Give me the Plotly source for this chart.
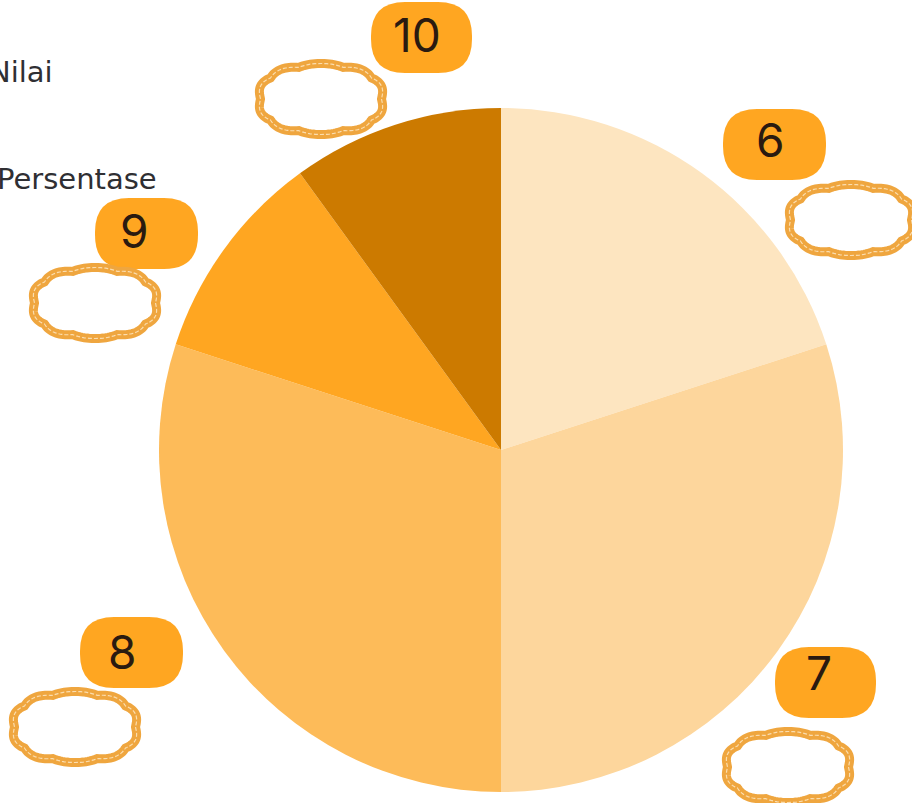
import math
import plotly.graph_objects as go

W, H = 912, 803
grades = ["6", "7", "8", "9", "10"]
percent = [20, 30, 30, 10, 10]
colors = ["#FDE5C0", "#FDD69C", "#FDBB59", "#FFA621", "#CC7A00"]

badge_boxes = {"10": (371, 2, 472, 73), "6": (723, 109, 826, 180), "9": (95, 198, 198, 269),
               "8": (80, 617, 183, 688), "7": (775, 647, 876, 718)}
label_centres = {"10": (417, 35), "6": (770, 140), "9": (134, 231), "8": (122, 652), "7": (819, 673)}
cloud_centres = {"10": (321, 99), "6": (851, 220), "9": (95, 303), "8": (75, 727), "7": (788, 767)}
CLOUD_W, CLOUD_H = 121, 66

def px(x): return x / W
def py(y): return 1 - y / H

def rounded(x0, y0, x1, y1, r):
    pts = [f"M {px(x0+r)} {py(y0)}", f"L {px(x1-r)} {py(y0)}",
           f"Q {px(x1)} {py(y0)} {px(x1)} {py(y0+r)}", f"L {px(x1)} {py(y1-r)}",
           f"Q {px(x1)} {py(y1)} {px(x1-r)} {py(y1)}", f"L {px(x0+r)} {py(y1)}",
           f"Q {px(x0)} {py(y1)} {px(x0)} {py(y1-r)}", f"L {px(x0)} {py(y0+r)}",
           f"Q {px(x0)} {py(y0)} {px(x0+r)} {py(y0)}", "Z"]
    return " ".join(pts)

def cloud(cx, cy, w, h, lobes=10, n=200):
    parts = []
    for i in range(n):
        t = 2 * math.pi * i / n
        bump = abs(math.sin(lobes * t / 2))
        c, s = math.cos(t), math.sin(t)
        ex = abs(c) ** 0.85 * (1 if c >= 0 else -1)
        ey = abs(s) ** 0.85 * (1 if s >= 0 else -1)
        x = cx + (w / 2 + 2.5 * bump) * ex
        y = cy + (h / 2 + 2.5 * bump) * ey
        parts.append(("M" if i == 0 else "L") + f" {px(x)} {py(y)}")
    return " ".join(parts) + " Z"

fig = go.Figure(go.Pie(
    labels=grades, values=percent, sort=False, direction="clockwise", rotation=0,
    marker=dict(colors=colors, line=dict(width=0)), textinfo="none", hoverinfo="label+percent",
    domain=dict(x=[px(159), px(843)], y=[py(792), py(108)]),
))

shapes, annotations = [], []
for g in grades:
    x0, y0, x1, y1 = badge_boxes[g]
    shapes.append(dict(type="path", xref="paper", yref="paper", path=rounded(x0, y0, x1, y1, 34),
                       fillcolor="#FFA621", line=dict(width=0), layer="above"))
    lx, ly = label_centres[g]
    annotations.append(dict(x=px(lx), y=py(ly), xref="paper", yref="paper",
                            text=g, showarrow=False, xanchor="center", yanchor="middle",
                            font=dict(family="Inter, Lato, sans-serif", size=46, color="#2A1A10")))
    cx, cy = cloud_centres[g]
    path = cloud(cx, cy, CLOUD_W, CLOUD_H)
    shapes.append(dict(type="path", xref="paper", yref="paper", path=path, fillcolor="#FFFFFF",
                       line=dict(color="#EFA63F", width=9), layer="above"))
    shapes.append(dict(type="path", xref="paper", yref="paper", path=path, fillcolor="rgba(0,0,0,0)",
                       line=dict(color="#FBDDAE", width=1.2, dash="4px,2px"), layer="above"))

for label, right, y in [("Nilai", 55, 72), ("Persentase", 159, 179)]:
    annotations.append(dict(x=px(right), y=py(y), xref="paper", yref="paper", text=label, showarrow=False,
                            xanchor="right", yanchor="middle",
                            font=dict(family="DejaVu Sans, sans-serif", size=29, color="#2F2F33")))

fig.update_layout(width=W, height=H, margin=dict(l=0, r=0, t=0, b=0), showlegend=False,
                  paper_bgcolor="#FFFFFF", shapes=shapes, annotations=annotations)
fig.write_html("out.html", post_script="document.body.style.margin='0';",
               config=dict(displayModeBar=False))
